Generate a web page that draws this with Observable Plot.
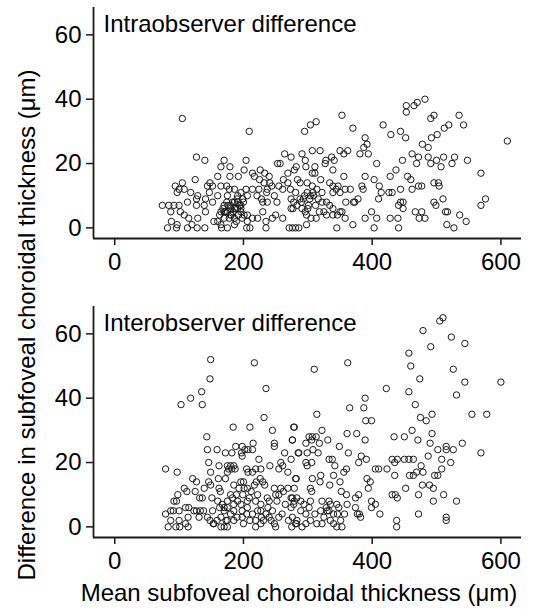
<!DOCTYPE html>
<html><head><meta charset="utf-8">
<script src="https://cdn.jsdelivr.net/npm/d3@7"></script>
<script src="https://cdn.jsdelivr.net/npm/@observablehq/plot@0.6"></script>
<style>
body{margin:0;background:#fff;}
#wrap{position:relative;width:534px;height:609px;font-family:"Liberation Sans",Arial,sans-serif;color:#000;overflow:hidden;}
.panel{position:absolute;left:0;}
.lab{position:absolute;font-size:24px;line-height:1;white-space:nowrap;}
</style></head><body><div id="wrap"></div>
<script>
const titles = ["Intraobserver difference", "Interobserver difference"];
const xLabel = "Mean subfoveal choroidal thickness (μm)";
const yLabel = "Difference in subfoveal choroidal thickness (μm)";
const xTicks = [0, 200, 400, 600];
const yTicks = [0, 20, 40, 60];
const xDomain = [-33, 632];
const yDomain = [-3.3, 68.5];

// [mean thickness, difference] — intraobserver panel
const intraPairs = [
[482,40],[470,39],[465,38],[453,38],[453,36],[353,35],[535,35],[496,35],[491,34],[542,32],[519,32],[512,31],[417,32],[370,31],[313,33],[304,32],[295,30],[444,30],[429,29],[452,28],[501,29],[492,28],[389,28],[610,27],[392,26],[387,25],[478,26],[487,25],[307,24],[319,24],[350,24],[362,24],[356,23],[381,23],[394,23],[291,23],[462,23],[472,22],[487,22],[511,22],[528,22],[337,22],[328,21],[341,21],[296,21],[327,20],[447,21],[469,20],[491,20],[500,21],[507,19],[524,20],[548,21],[407,20],[282,19],[297,19],[311,19],[339,18],[437,18],[569,17],[356,16],[389,16],[428,16],[455,16],[307,17],[311,17],[403,15],[460,15],[284,15],[320,15],[411,13],[384,13],[496,14],[503,14],[504,13],[472,13],[477,13],[334,14],[339,13],[347,13],[344,12],[288,14],[299,14],[307,13],[314,12],[366,12],[358,12],[386,12],[444,12],[462,12],[414,11],[426,11],[431,11],[350,11],[339,11],[322,11],[299,11],[281,11],[304,10],[309,10],[293,9],[288,9],[378,9],[373,8],[410,9],[576,9],[569,7],[496,8],[499,7],[510,9],[444,8],[448,8],[441,7],[448,6],[359,8],[371,8],[322,8],[329,8],[278,8],[283,7],[301,7],[334,7],[339,6],[325,5],[350,5],[353,5],[346,4],[339,4],[291,6],[296,5],[277,6],[399,5],[467,5],[477,5],[514,5],[517,5],[536,4],[407,3],[389,3],[428,3],[440,3],[473,3],[482,3],[546,2],[313,3],[329,4],[358,3],[516,1],[527,0],[298,1],[370,1],[345,0],[403,0],[441,0],[271,0],[276,0],[281,0],[286,0],
[105,34],[209,30],[127,22],[140,21],[170,21],[204,21],[264,23],[274,22],[253,20],[257,20],[179,19],[165,19],[201,18],[226,18],[214,17],[233,17],[160,16],[179,16],[192,16],[217,16],[269,17],[279,18],[125,15],[148,14],[105,14],[94,13],[100,12],[108,12],[118,11],[97,11],[144,13],[152,13],[165,13],[174,13],[178,12],[186,12],[196,11],[204,12],[214,12],[224,12],[237,12],[244,13],[241,14],[261,12],[273,12],[269,14],[129,10],[127,9],[141,9],[160,10],[175,10],[191,10],[206,10],[221,10],[147,11],[152,8],[113,8],[127,7],[74,7],[84,7],[92,7],[100,7],[139,7],[170,7],[180,7],[186,8],[191,8],[196,7],[200,8],[230,8],[237,8],[252,8],[274,9],[87,5],[102,5],[108,4],[115,3],[129,3],[141,5],[154,2],[160,2],[165,5],[170,5],[175,5],[180,4],[186,6],[191,6],[196,5],[201,4],[206,4],[214,3],[222,3],[230,5],[245,3],[250,4],[261,3],[274,6],[88,2],[97,1],[120,1],[165,1],[186,1],[206,2],[235,2],[82,0],[96,0],[113,0],[128,0],[140,0],[166,0],[175,0],[205,0],[210,0],[235,0],
[168,6],[172,5],[176,7],[180,6],[184,5],[188,6],[192,4],[196,6],[178,3],[183,8],[190,9],[163,4],[170,3],[186,3],[194,7],[198,3],[174,8],[181,4],[189,2],[199,9],[290,8],[295,10],[300,6],[303,9],[308,11],[312,7],[316,9],[298,4],[305,3],[318,5],[225,15],[232,14],[240,16],[248,10],[255,13],[262,15],[228,9],[236,11]
];

// [mean thickness, difference] — interobserver panel
const interPairs = [
[149,52],[217,51],[148,46],[235,43],[135,42],[118,40],[103,38],[136,38],[232,34],[184,31],[210,31],[279,31],[143,28],[245,30],[215,26],[248,26],[248,25],[276,27],[144,24],[159,24],[188,25],[198,25],[202,24],[207,24],[214,24],[172,23],[182,23],[197,23],[198,22],[264,23],[285,23],[146,20],[274,21],[224,21],[79,18],[97,17],[149,17],[175,19],[177,18],[180,19],[185,19],[182,18],[187,18],[205,18],[207,17],[214,17],[219,18],[227,18],[241,19],[255,18],[258,20],[261,19],[269,17],[162,19],[175,17],[161,15],[172,15],[121,15],[127,14],[226,15],[230,14],[282,15],[108,12],[112,11],[125,11],[139,12],[146,14],[149,13],[162,12],[164,11],[185,13],[196,14],[200,14],[193,12],[201,12],[206,12],[217,13],[233,13],[248,12],[258,12],[269,12],[279,12],[98,10],[92,8],[96,8],[132,9],[136,9],[151,9],[180,10],[189,10],[199,10],[209,9],[222,10],[237,9],[250,10],[262,11],[274,9],[175,8],[185,7],[191,8],[167,7],[196,7],[206,8],[219,8],[227,7],[240,8],[252,8],[274,6],[279,8],[110,6],[115,6],[79,4],[87,5],[91,5],[100,5],[123,5],[127,5],[133,5],[138,5],[152,5],[163,6],[170,6],[175,6],[185,5],[198,5],[206,6],[214,4],[227,5],[235,4],[245,5],[255,3],[87,2],[100,2],[110,1],[114,3],[131,3],[144,3],[148,2],[154,1],[159,2],[173,2],[185,2],[198,3],[219,2],[227,1],[231,2],[240,3],[248,1],[282,1],[83,0],[95,0],[101,0],[114,0],[153,1],[165,0],[170,0],[175,0],[219,0],[250,0],[275,0],
[165,3],[170,5],[175,2],[180,4],[190,3],[200,1],[205,4],[210,2],[222,5],[228,3],[238,6],[243,2],[160,8],[183,9],[260,4],[265,7],[270,2],[255,10],[212,11],[220,14],
[510,65],[505,64],[479,61],[523,59],[544,57],[491,56],[457,54],[310,49],[362,51],[460,50],[526,49],[474,46],[544,45],[600,45],[422,43],[457,42],[531,41],[389,40],[365,37],[387,37],[314,35],[467,38],[493,35],[475,34],[484,33],[555,35],[578,35],[390,33],[399,33],[278,31],[322,30],[361,29],[376,29],[434,28],[450,28],[462,30],[471,27],[493,29],[389,27],[302,28],[307,28],[313,28],[306,27],[318,26],[331,27],[297,26],[276,27],[349,25],[490,26],[540,26],[515,25],[502,24],[515,24],[526,24],[363,23],[286,23],[299,23],[316,23],[308,24],[569,23],[487,22],[383,22],[508,21],[522,20],[379,20],[391,21],[333,21],[338,21],[431,21],[439,21],[450,21],[457,21],[464,21],[435,20],[476,19],[297,20],[306,20],[299,19],[342,19],[405,18],[410,18],[423,18],[360,18],[356,17],[469,17],[479,17],[508,18],[497,16],[502,16],[458,16],[464,16],[435,16],[281,15],[320,16],[340,16],[307,15],[392,15],[397,14],[350,14],[319,14],[334,13],[394,12],[379,10],[374,9],[360,10],[352,11],[304,12],[306,11],[452,12],[478,13],[489,13],[495,12],[472,10],[431,10],[436,10],[439,9],[511,10],[495,8],[531,8],[399,8],[405,7],[412,4],[399,6],[472,4],[515,3],[515,2],[438,2],[438,0],[380,4],[382,3],[377,4],[357,4],[346,4],[340,4],[330,5],[320,5],[311,4],[325,3],[314,1],[322,1],[340,1],[345,0],[353,0],[351,2],[335,2],[304,2],[297,1],[291,0],[281,1],[283,2],[276,3],[297,4],[289,5],[302,6],[278,7],[294,7],[304,8],[289,8],[283,9],[345,7],[333,8],[335,7],[322,8],[329,6],[348,6],[361,7],[374,6],[333,5],[276,9]
];

const FONT = "'Liberation Sans', Arial, sans-serif";
const INK = "#1a1a1a";

function panel(pairs, title) {
  return Plot.plot({
    width: 534, height: 290,
    marginLeft: 93, marginRight: 13, marginTop: 7, marginBottom: 52,
    style: {fontFamily: FONT, fontSize: "24px", color: INK, background: "white", overflow: "visible"},
    x: {domain: xDomain},
    y: {domain: yDomain},
    marks: [
      Plot.axisX({ticks: xTicks, tickSize: 7, tickPadding: 7, strokeWidth: 1.5, label: null, fontSize: 24, fill: "#000"}),
      Plot.axisY({ticks: yTicks, tickSize: 7, tickPadding: 5, strokeWidth: 1.5, label: null, fontSize: 24, fill: "#000"}),
      Plot.dot(pairs, {x: d => d[0], y: d => d[1], r: 3.2, stroke: INK, strokeWidth: 1, fill: "none"}),
      Plot.ruleX([xDomain[0]], {stroke: INK, strokeWidth: 1.8}),
      Plot.ruleY([yDomain[0]], {stroke: INK, strokeWidth: 1.8}),
      Plot.text([title], {frameAnchor: "top-left", dx: 10, dy: 7, lineAnchor: "top", textAnchor: "start", fontSize: 24, fill: "#000"})
    ]
  });
}

const wrap = document.getElementById("wrap");
const p1 = panel(intraPairs, titles[0]);
p1.classList.add("panel"); p1.style.top = "0px";
const p2 = panel(interPairs, titles[1]);
p2.classList.add("panel"); p2.style.top = "299px";
wrap.appendChild(p1);
wrap.appendChild(p2);

const yl = document.createElement("div");
yl.className = "lab";
yl.textContent = yLabel;
yl.style.left = "27px"; yl.style.top = "325px";
yl.style.transform = "translate(-50%,-50%) rotate(-90deg)";
wrap.appendChild(yl);

const xl = document.createElement("div");
xl.className = "lab";
xl.textContent = xLabel;
xl.style.left = "299px"; xl.style.top = "581px";
xl.style.transform = "translateX(-50%)";
wrap.appendChild(xl);
</script>
</body></html>
